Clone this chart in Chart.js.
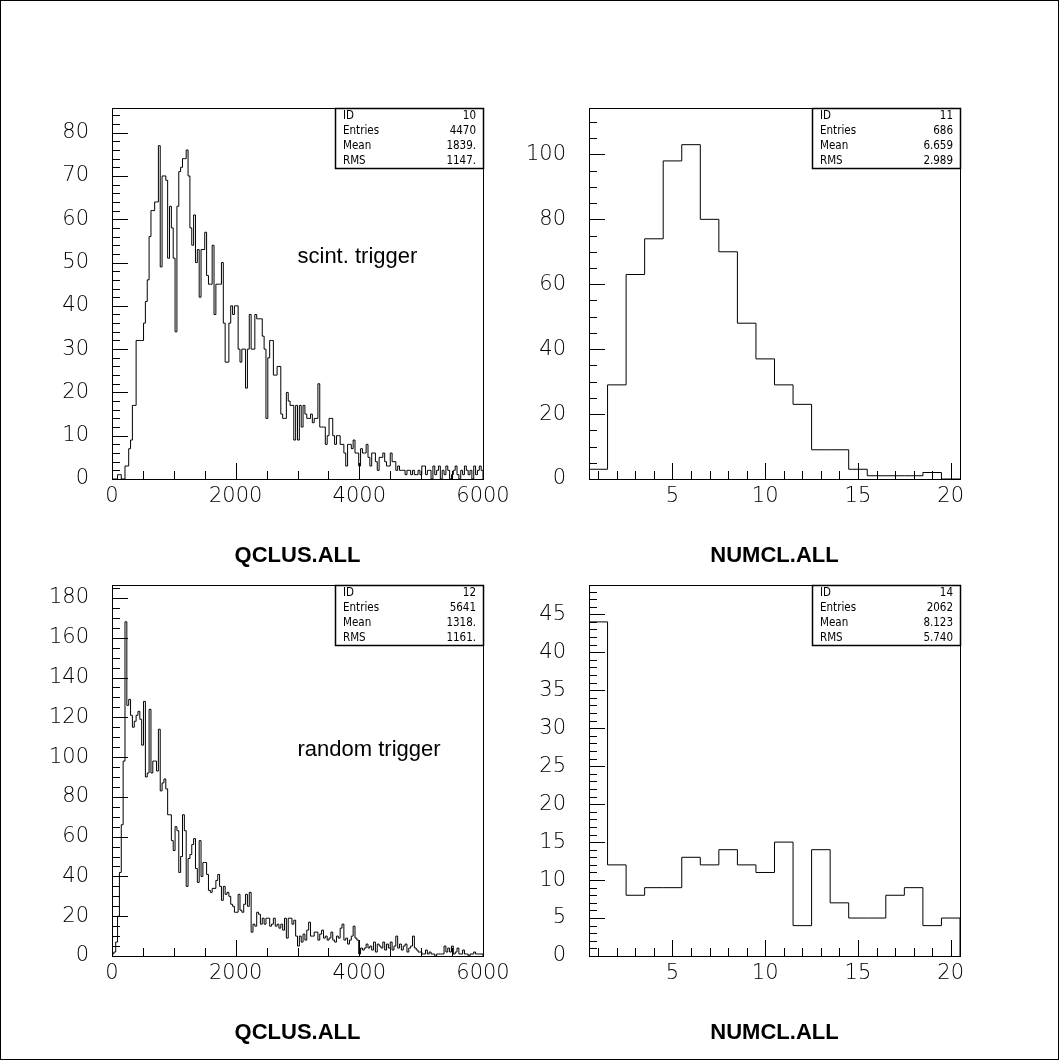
<!DOCTYPE html>
<html>
<head>
<meta charset="utf-8">
<script src="https://cdn.jsdelivr.net/npm/chart.js@4.4.0/dist/chart.umd.min.js"></script>
<style>
  html, body { margin: 0; padding: 0; background: #fff; }
  #page { position: relative; width: 1059px; height: 1060px; overflow: hidden; }
  #border { position: absolute; left: 0; top: 0; width: 1059px; height: 1060px; box-sizing: border-box; border: 1px solid #000; }
  canvas { position: absolute; }
</style>
</head>
<body>
<div id="page">
  <div id="border"></div>
  <canvas id="chart-qclus-scint"></canvas>
  <canvas id="chart-numcl-scint"></canvas>
  <canvas id="chart-qclus-random"></canvas>
  <canvas id="chart-numcl-random"></canvas>
</div>
<script>
// bin contents, 200 bins of 30 over 0..6000
const qclusScint = [
  0, 0, 0, 1, 1, 0, 0, 3, 3, 7,
  9, 17, 17, 32, 32, 32, 32, 36, 41, 46,
  56, 62, 62, 64, 64, 77, 49, 70, 70, 69,
  51, 63, 58, 51, 34, 63, 71, 72, 74, 74,
  76, 70, 58, 54, 61, 50, 53, 42, 53, 53,
  57, 47, 45, 45, 54, 38, 45, 45, 45, 50,
  36, 27, 27, 36, 40, 38, 40, 40, 30, 27,
  30, 30, 21, 30, 38, 30, 30, 38, 37, 37,
  37, 33, 30, 14, 28, 32, 32, 24, 24, 26,
  26, 15, 14, 14, 20, 18, 17, 17, 9, 17,
  9, 17, 12, 17, 15, 14, 14, 15, 13, 14,
  14, 22, 12, 12, 12, 8, 10, 14, 14, 10,
  8, 10, 10, 8, 8, 6, 3, 8, 8, 7,
  9, 6, 6, 3, 7, 6, 6, 8, 5, 3,
  6, 6, 4, 2, 5, 5, 6, 4, 3, 3,
  6, 4, 4, 2, 3, 2, 2, 2, 1, 2,
  2, 1, 2, 1, 1, 2, 1, 3, 3, 1,
  2, 2, 0, 3, 1, 2, 3, 0, 2, 1,
  3, 2, 0, 1, 2, 3, 1, 0, 2, 1,
  3, 2, 1, 2, 0, 3, 1, 2, 3, 2
];
const qclusRandom = [
  1, 2, 7, 20, 42, 66, 98, 168, 126, 129,
  121, 115, 118, 121, 123, 119, 106, 128, 90, 92,
  124, 92, 98, 98, 93, 114, 83, 87, 89, 84,
  71, 71, 58, 53, 65, 63, 42, 50, 71, 63,
  35, 49, 51, 56, 59, 44, 37, 58, 40, 47,
  47, 41, 33, 32, 34, 34, 38, 41, 35, 28,
  35, 31, 32, 30, 26, 25, 22, 22, 31, 23,
  22, 26, 31, 25, 32, 12, 16, 15, 22, 21,
  16, 19, 16, 19, 19, 15, 16, 19, 15, 16,
  14, 16, 13, 19, 9, 19, 19, 16, 18, 10,
  5, 10, 7, 11, 8, 13, 17, 10, 10, 12,
  12, 8, 11, 13, 9, 10, 8, 9, 12, 8,
  7, 10, 9, 14, 16, 8, 9, 6, 8, 10,
  15, 9, 8, 1, 4, 3, 4, 6, 4, 5,
  3, 7, 2, 6, 5, 4, 7, 3, 6, 4,
  7, 3, 5, 10, 4, 6, 3, 5, 6, 2,
  4, 5, 10, 4, 3, 2, 2, 1, 1, 3,
  1, 2, 1, 1, 0, 1, 1, 1, 1, 5,
  2, 4, 2, 5, 1, 2, 4, 1, 1, 3,
  1, 1, 0, 1, 1, 2, 1, 1, 1, 1
];
// 20 bins of 1 over 0.5..20.5
const numclScint = [3, 29, 63, 74, 98, 103, 80, 70, 48, 37, 29, 23, 9, 9, 3, 1, 1, 1, 2, 0];
const numclRandom = [44, 12, 8, 9, 9, 13, 12, 14, 12, 11, 15, 4, 14, 7, 5, 5, 8, 9, 4, 5];

const qclusXTicks = [0, 2000, 4000, 6000];
const numclXTicks = [5, 10, 15, 20];
const qclusScintYTicks = [0, 10, 20, 30, 40, 50, 60, 70, 80];
const numclScintYTicks = [0, 20, 40, 60, 80, 100];
const qclusRandomYTicks = [0, 20, 40, 60, 80, 100, 120, 140, 160, 180];
const numclRandomYTicks = [0, 5, 10, 15, 20, 25, 30, 35, 40, 45];

const statLabels = ['ID', 'Entries', 'Mean', 'RMS'];
const statsQclusScint = ['10', '4470', '1839.', '1147.'];
const statsNumclScint = ['11', '686', '6.659', '2.989'];
const statsQclusRandom = ['12', '5641', '1318.', '1161.'];
const statsNumclRandom = ['14', '2062', '8.123', '5.740'];

const FRAME = 371;
const PAD_LEFT = 100, PAD_TOP = 40, PAD_RIGHT = 45, AXIS_H = 90;

const histDecor = {
    id: 'histDecor',
    afterDraw(chart, args, opts) {
        const ctx = chart.ctx;
        const a = chart.chartArea;
        const x = chart.scales.x, y = chart.scales.y;
        ctx.save();
        ctx.strokeStyle = '#000';
        ctx.fillStyle = '#000';
        ctx.lineWidth = 1;
        ctx.strokeRect(a.left + 0.5, a.top + 0.5, a.right - a.left, a.bottom - a.top);

        // ticks inside the frame
        ctx.beginPath();
        let v = Math.ceil(x.min / opts.xMinor) * opts.xMinor;
        for (; v <= x.max + 1e-9; v += opts.xMinor) {
            const px = Math.round(x.getPixelForValue(v)) + 0.5;
            const len = opts.xMajor.includes(v) ? 16 : 8;
            ctx.moveTo(px, a.bottom);
            ctx.lineTo(px, a.bottom - len);
        }
        for (v = 0; v <= y.max + 1e-9; v += opts.yMinor) {
            const py = Math.round(y.getPixelForValue(v)) + 0.5;
            const len = opts.yMajor.includes(v) ? 16 : 8;
            ctx.moveTo(a.left, py);
            ctx.lineTo(a.left + len, py);
        }
        ctx.stroke();

        // statistics box
        const bw = 148, bh = 60;
        const bx = a.right - bw;
        ctx.lineWidth = 1.5;
        ctx.strokeRect(bx + 0.5, a.top + 0.5, bw, bh);
        ctx.font = '11.5px "DejaVu Sans Condensed", "DejaVu Sans", sans-serif';
        ctx.textBaseline = 'middle';
        statLabels.forEach((lab, i) => {
            const ty = a.top + 8 + i * 15;
            ctx.textAlign = 'left';
            ctx.fillText(lab, bx + 8, ty);
            ctx.textAlign = 'right';
            ctx.fillText(opts.stats[i], a.right - 7, ty);
        });

        if (opts.note) {
            ctx.font = '22px "Liberation Sans", Arial, sans-serif';
            ctx.textAlign = 'left';
            ctx.textBaseline = 'alphabetic';
            ctx.fillText(opts.note, x.getPixelForValue(opts.noteAt[0]), y.getPixelForValue(opts.noteAt[1]));
        }
        ctx.restore();
    }
};

function histPoints(values, lo, hi) {
    const w = (hi - lo) / values.length;
    const pts = [{x: lo, y: 0}];
    values.forEach((val, i) => pts.push({x: lo + i * w, y: val}));
    pts.push({x: hi, y: values[values.length - 1]});
    pts.push({x: hi, y: 0});
    return pts;
}

function makeHist(canvasId, frameLeft, frameTop, cfg) {
    const el = document.getElementById(canvasId);
    el.width = PAD_LEFT + FRAME + PAD_RIGHT;
    el.height = PAD_TOP + FRAME + AXIS_H;
    const tickFont = {family: '"DejaVu Sans", sans-serif', size: 21, weight: '200'};
    const chart = new Chart(el, {
        type: 'line',
        plugins: [histDecor],
        data: {
            datasets: [{
                data: histPoints(cfg.values, cfg.lo, cfg.hi),
                borderColor: '#000',
                borderWidth: 1,
                pointRadius: 0,
                stepped: 'before',
                fill: false
            }]
        },
        options: {
            responsive: false,
            animation: false,
            events: [],
            layout: {padding: {left: 0, top: PAD_TOP, right: PAD_RIGHT, bottom: 0}},
            plugins: {
                legend: {display: false},
                tooltip: {enabled: false},
                histDecor: {
                    xMinor: cfg.xMinor, xMajor: cfg.xTicks,
                    yMinor: cfg.yMinor, yMajor: cfg.yTicks,
                    stats: cfg.stats, note: cfg.note, noteAt: cfg.noteAt
                }
            },
            scales: {
                x: {
                    type: 'linear',
                    min: cfg.lo,
                    max: cfg.hi,
                    grid: {display: false, drawTicks: false},
                    border: {display: false},
                    afterBuildTicks: s => { s.ticks = cfg.xTicks.map(t => ({value: t})); },
                    afterFit: s => { s.height = AXIS_H; },
                    ticks: {color: '#000', font: tickFont, padding: 5, maxRotation: 0, autoSkip: false,
                            callback: val => String(val)},
                    title: {
                        display: true,
                        text: cfg.title,
                        color: '#000',
                        font: {family: '"Liberation Sans", Arial, sans-serif', size: 22, weight: 'bold'},
                        padding: {top: 0, bottom: 0}
                    }
                },
                y: {
                    type: 'linear',
                    min: 0,
                    max: cfg.ymax,
                    grid: {display: false, drawTicks: false},
                    border: {display: false},
                    afterBuildTicks: s => { s.ticks = cfg.yTicks.map(t => ({value: t})); },
                    afterFit: s => { s.width = PAD_LEFT; },
                    ticks: {color: '#000', font: tickFont, padding: 23, autoSkip: false,
                            callback: val => String(val)}
                }
            }
        }
    });
    // keep the plotting frame exactly FRAME x FRAME and place it on the page
    const ca = chart.chartArea;
    const dh = FRAME - Math.round(ca.bottom - ca.top);
    if (dh !== 0) {
        chart.resize(el.width, el.height + dh);
    }
    el.style.left = (frameLeft - chart.chartArea.left) + 'px';
    el.style.top = (frameTop - chart.chartArea.top) + 'px';
    return chart;
}

var chart_qclus_scint = makeHist('chart-qclus-scint', 112, 108, {
    values: qclusScint, lo: 0, hi: 6000, ymax: 85.7,
    xTicks: qclusXTicks, xMinor: 500, yTicks: qclusScintYTicks, yMinor: 2,
    stats: statsQclusScint, note: 'scint. trigger', noteAt: [3000, 49.8], title: 'QCLUS.ALL'
});
var chart_numcl_scint = makeHist('chart-numcl-scint', 589, 108, {
    values: numclScint, lo: 0.5, hi: 20.5, ymax: 114.3,
    xTicks: numclXTicks, xMinor: 1, yTicks: numclScintYTicks, yMinor: 5,
    stats: statsNumclScint, title: 'NUMCL.ALL'
});
var chart_qclus_random = makeHist('chart-qclus-random', 112, 585, {
    values: qclusRandom, lo: 0, hi: 6000, ymax: 186.5,
    xTicks: qclusXTicks, xMinor: 500, yTicks: qclusRandomYTicks, yMinor: 5,
    stats: statsQclusRandom, note: 'random trigger', noteAt: [3000, 100.4], title: 'QCLUS.ALL'
});
var chart_numcl_random = makeHist('chart-numcl-random', 589, 585, {
    values: numclRandom, lo: 0.5, hi: 20.5, ymax: 48.86,
    xTicks: numclXTicks, xMinor: 1, yTicks: numclRandomYTicks, yMinor: 1,
    stats: statsNumclRandom, title: 'NUMCL.ALL'
});
</script>
</body>
</html>
